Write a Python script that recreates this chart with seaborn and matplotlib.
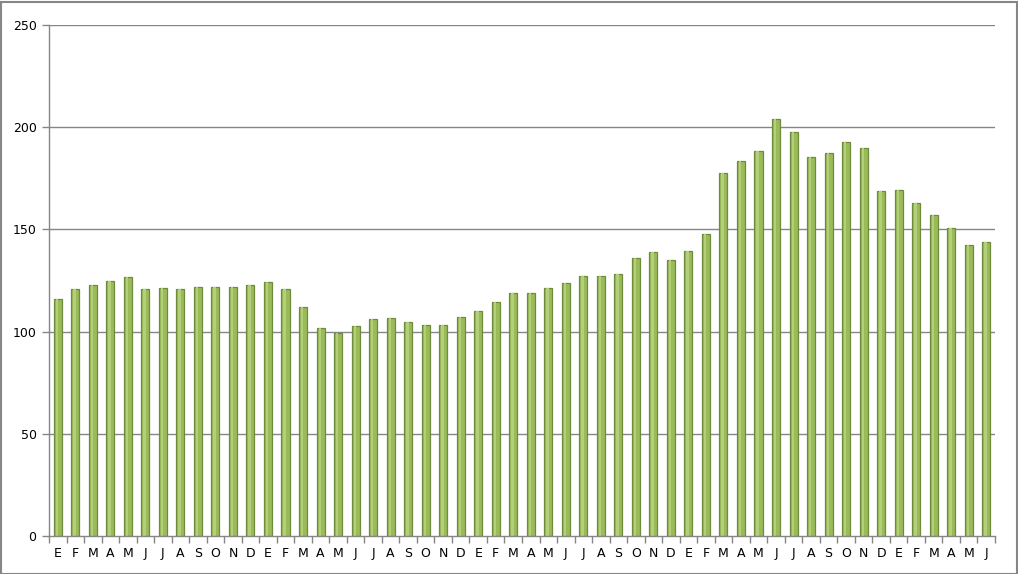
import matplotlib
matplotlib.use("Agg")
import matplotlib.pyplot as plt
import seaborn as sns
import pandas as pd
import numpy as np
from matplotlib.patches import Rectangle

months = ["E", "F", "M", "A", "M", "J", "J", "A", "S", "O", "N", "D"] * 4 + ["E", "F", "M", "A", "M", "J"]
values = [116, 121, 123, 125, 126.5, 121, 121.5, 121, 122, 122, 122, 123,
          124.5, 121, 112, 102, 99.5, 102.8, 106.3, 106.5, 104.5, 103.2, 103.4, 107,
          110.2, 114.5, 118.9, 118.7, 121.1, 124, 127, 127, 128.4, 136, 138.7, 135,
          139.4, 147.8, 177.6, 183.7, 188.6, 204.2, 197.7, 185.2, 187.2, 193, 189.8, 168.9,
          169.4, 162.9, 157.2, 150.9, 142.6, 143.6]
yticks = [0, 50, 100, 150, 200, 250]

df = pd.DataFrame({"idx": np.arange(len(values)), "value": values})

sns.set_theme(style="white")
plt.rcParams["font.family"] = ["DejaVu Sans"]

W, H = 1018, 574
fig = plt.figure(figsize=(W / 100, H / 100), dpi=100)
fig.patch.set_facecolor("white")
ax = fig.add_axes([49 / W, 38 / H, (995 - 49) / W, (536 - 25) / H])

sns.barplot(data=df, x="idx", y="value", color="#9BBB59", width=0.46,
            edgecolor="#6E8B3D", linewidth=0.9, saturation=1, ax=ax)

# subtle highlight strip on each bar for a cylindrical look
for p in ax.patches:
    x0, w, h = p.get_x(), p.get_width(), p.get_height()
    ax.add_patch(Rectangle((x0 + w * 0.25, 0), w * 0.3, h, facecolor="#B3CF7A",
                           edgecolor="none", zorder=p.get_zorder() + 0.1))

ax.set_xlim(-0.5, len(values) - 0.5)
ax.set_ylim(0, 250)
ax.set_yticks(yticks)
ax.set_yticklabels([str(v) for v in yticks], fontsize=9, color="#000000")
ax.set_xticks(np.arange(len(values)))
ax.set_xticklabels(months, fontsize=9, color="#000000")
ax.set_xlabel("")
ax.set_ylabel("")

for v in yticks[1:]:
    ax.axhline(v, color="#868686", linewidth=1.0, zorder=0)

for s in ["top", "right"]:
    ax.spines[s].set_visible(False)
for s in ["left", "bottom"]:
    ax.spines[s].set_color("#868686")
    ax.spines[s].set_linewidth(1.0)

ax.tick_params(axis="y", which="major", length=5, color="#868686", width=1, pad=4, left=True)
ax.tick_params(axis="x", which="major", length=0, pad=8)
ax.set_xticks(np.arange(len(values) + 1) - 0.5, minor=True)
ax.tick_params(axis="x", which="minor", length=5, color="#868686", width=1, bottom=True)

fig.add_artist(Rectangle((0.5 / W, 0.5 / H), (W - 2) / W, (H - 2) / H, transform=fig.transFigure,
                         fill=False, edgecolor="#868686", linewidth=1.5))

fig.savefig("out.png", dpi=100)
